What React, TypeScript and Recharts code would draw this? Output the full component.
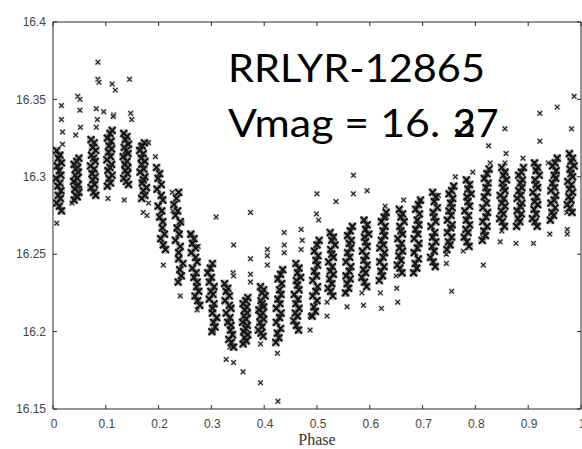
import React from 'react';
import { ScatterChart, Scatter, XAxis, YAxis } from 'recharts';

type Pt = [number, number];

// phase / V magnitude, one row per observing night (streak)
const nightsAtMax: Pt[] = [
  [0.007,16.317],[0.013,16.314],[0.010,16.312],[0.016,16.309],[0.008,16.307],[0.012,16.304],[0.015,16.301],[0.006,16.299],[0.013,16.296],[0.009,16.294],[0.015,16.291],[0.010,16.288],[0.014,16.286],[0.007,16.283],[0.012,16.281],[0.016,16.278],
  [0.049,16.312],[0.045,16.310],[0.040,16.308],[0.047,16.306],[0.043,16.305],[0.048,16.303],[0.042,16.301],[0.046,16.299],[0.039,16.297],[0.048,16.295],[0.045,16.294],[0.041,16.292],[0.049,16.290],[0.043,16.288],[0.046,16.287],[0.040,16.285],
  [0.072,16.324],[0.078,16.322],[0.075,16.319],[0.081,16.317],[0.073,16.314],[0.077,16.312],[0.080,16.310],[0.071,16.307],[0.078,16.305],[0.074,16.302],[0.080,16.300],[0.075,16.298],[0.079,16.295],[0.072,16.293],[0.077,16.290],[0.081,16.288],
  [0.112,16.330],[0.108,16.328],[0.103,16.325],[0.110,16.323],[0.106,16.320],[0.111,16.318],[0.105,16.316],[0.109,16.313],[0.102,16.311],[0.111,16.308],[0.108,16.306],[0.104,16.304],[0.112,16.301],[0.106,16.299],[0.109,16.296],[0.103,16.294],
  [0.134,16.328],[0.140,16.326],[0.137,16.324],[0.143,16.321],[0.135,16.319],[0.139,16.317],[0.142,16.315],[0.133,16.313],[0.140,16.310],[0.136,16.308],[0.142,16.306],[0.137,16.304],[0.141,16.302],[0.134,16.299],[0.139,16.297],[0.143,16.295],
  [0.173,16.322],[0.169,16.320],[0.164,16.317],[0.171,16.315],[0.167,16.312],[0.174,16.310],[0.168,16.308],[0.172,16.305],[0.165,16.303],[0.174,16.300],[0.171,16.298],[0.169,16.296],[0.177,16.293],[0.171,16.291],[0.174,16.288],[0.168,16.286],
];

const nightsFalling: Pt[] = [
  [0.196,16.306],[0.202,16.302],[0.199,16.299],[0.205,16.295],[0.197,16.292],[0.205,16.288],[0.208,16.285],[0.199,16.281],[0.206,16.278],[0.202,16.274],[0.208,16.271],[0.207,16.267],[0.211,16.263],[0.204,16.260],[0.209,16.256],[0.213,16.253],
  [0.238,16.290],[0.234,16.286],[0.229,16.282],[0.236,16.278],[0.232,16.275],[0.241,16.271],[0.235,16.267],[0.239,16.263],[0.232,16.259],[0.241,16.255],[0.238,16.251],[0.238,16.247],[0.246,16.244],[0.240,16.240],[0.243,16.236],[0.237,16.232],
  [0.261,16.263],[0.267,16.260],[0.264,16.257],[0.270,16.254],[0.262,16.251],[0.270,16.248],[0.273,16.245],[0.264,16.241],[0.271,16.238],[0.267,16.235],[0.273,16.232],[0.272,16.229],[0.276,16.226],[0.269,16.223],[0.274,16.220],[0.278,16.217],
  [0.302,16.244],[0.298,16.241],[0.293,16.238],[0.300,16.235],[0.296,16.232],[0.305,16.229],[0.299,16.226],[0.303,16.224],[0.296,16.221],[0.305,16.218],[0.302,16.215],[0.302,16.212],[0.310,16.209],[0.304,16.206],[0.307,16.203],[0.301,16.200],
  [0.325,16.231],[0.331,16.228],[0.328,16.226],[0.334,16.223],[0.326,16.220],[0.334,16.217],[0.337,16.215],[0.328,16.212],[0.335,16.209],[0.331,16.206],[0.337,16.204],[0.336,16.201],[0.340,16.198],[0.333,16.195],[0.338,16.193],[0.342,16.190],
  [0.369,16.222],[0.365,16.220],[0.360,16.218],[0.367,16.216],[0.363,16.214],[0.368,16.212],[0.362,16.210],[0.366,16.208],[0.359,16.206],[0.368,16.204],[0.365,16.202],[0.361,16.200],[0.369,16.198],[0.363,16.196],[0.366,16.194],[0.360,16.192],
  [0.393,16.229],[0.399,16.227],[0.396,16.225],[0.402,16.223],[0.394,16.220],[0.396,16.218],[0.399,16.216],[0.390,16.214],[0.397,16.212],[0.393,16.210],[0.399,16.208],[0.392,16.206],[0.396,16.203],[0.389,16.201],[0.394,16.199],[0.398,16.197],
  [0.435,16.240],[0.431,16.237],[0.426,16.234],[0.433,16.231],[0.429,16.227],[0.432,16.224],[0.426,16.221],[0.430,16.218],[0.423,16.215],[0.432,16.212],[0.429,16.209],[0.423,16.206],[0.431,16.202],[0.425,16.199],[0.428,16.196],[0.422,16.193],
];

const nightsRising: Pt[] = [
  [0.460,16.244],[0.466,16.241],[0.463,16.238],[0.469,16.235],[0.461,16.233],[0.463,16.230],[0.466,16.227],[0.457,16.224],[0.464,16.221],[0.460,16.218],[0.466,16.215],[0.459,16.212],[0.463,16.210],[0.456,16.207],[0.461,16.204],[0.465,16.201],
  [0.504,16.259],[0.500,16.256],[0.495,16.252],[0.502,16.249],[0.498,16.246],[0.501,16.243],[0.495,16.239],[0.499,16.236],[0.492,16.233],[0.501,16.229],[0.498,16.226],[0.492,16.223],[0.500,16.220],[0.494,16.216],[0.497,16.213],[0.491,16.210],
  [0.525,16.264],[0.531,16.261],[0.528,16.259],[0.534,16.256],[0.526,16.253],[0.528,16.250],[0.531,16.248],[0.522,16.245],[0.529,16.242],[0.525,16.239],[0.531,16.237],[0.524,16.234],[0.528,16.231],[0.521,16.228],[0.526,16.226],[0.530,16.223],
  [0.567,16.268],[0.563,16.265],[0.558,16.262],[0.565,16.259],[0.561,16.257],[0.564,16.254],[0.558,16.251],[0.562,16.248],[0.555,16.245],[0.564,16.242],[0.561,16.239],[0.555,16.236],[0.563,16.234],[0.557,16.231],[0.560,16.228],[0.554,16.225],
  [0.589,16.272],[0.595,16.269],[0.592,16.266],[0.598,16.263],[0.590,16.261],[0.592,16.258],[0.595,16.255],[0.586,16.252],[0.593,16.249],[0.589,16.246],[0.595,16.243],[0.588,16.240],[0.592,16.238],[0.585,16.235],[0.590,16.232],[0.594,16.229],
  [0.631,16.277],[0.627,16.274],[0.622,16.271],[0.629,16.268],[0.625,16.265],[0.628,16.262],[0.622,16.259],[0.626,16.256],[0.619,16.254],[0.628,16.251],[0.625,16.248],[0.619,16.245],[0.627,16.242],[0.621,16.239],[0.624,16.236],[0.618,16.233],
  [0.656,16.279],[0.662,16.276],[0.659,16.274],[0.665,16.271],[0.657,16.268],[0.659,16.265],[0.662,16.263],[0.653,16.260],[0.660,16.257],[0.656,16.254],[0.662,16.252],[0.655,16.249],[0.659,16.246],[0.652,16.243],[0.657,16.241],[0.661,16.238],
  [0.696,16.285],[0.692,16.282],[0.687,16.279],[0.694,16.276],[0.690,16.272],[0.693,16.269],[0.687,16.266],[0.691,16.263],[0.684,16.260],[0.693,16.257],[0.690,16.254],[0.684,16.251],[0.692,16.247],[0.686,16.244],[0.689,16.241],[0.683,16.238],
  [0.719,16.290],[0.725,16.287],[0.722,16.284],[0.728,16.280],[0.720,16.277],[0.722,16.274],[0.725,16.271],[0.716,16.268],[0.723,16.264],[0.719,16.261],[0.725,16.258],[0.718,16.255],[0.722,16.252],[0.715,16.248],[0.720,16.245],[0.724,16.242],
  [0.759,16.294],[0.755,16.291],[0.750,16.289],[0.757,16.286],[0.753,16.283],[0.756,16.280],[0.750,16.278],[0.754,16.275],[0.747,16.272],[0.756,16.269],[0.753,16.267],[0.747,16.264],[0.755,16.261],[0.749,16.258],[0.752,16.256],[0.746,16.253],
  [0.783,16.298],[0.789,16.295],[0.786,16.292],[0.792,16.289],[0.784,16.287],[0.786,16.284],[0.789,16.281],[0.780,16.278],[0.787,16.275],[0.783,16.272],[0.789,16.269],[0.782,16.266],[0.786,16.264],[0.779,16.261],[0.784,16.258],[0.788,16.255],
  [0.826,16.305],[0.822,16.302],[0.817,16.299],[0.824,16.296],[0.820,16.293],[0.823,16.290],[0.817,16.287],[0.821,16.283],[0.814,16.280],[0.823,16.277],[0.820,16.274],[0.814,16.271],[0.822,16.268],[0.816,16.265],[0.819,16.262],[0.813,16.259],
  [0.850,16.306],[0.856,16.303],[0.853,16.301],[0.859,16.298],[0.851,16.296],[0.853,16.293],[0.856,16.291],[0.847,16.288],[0.854,16.286],[0.850,16.283],[0.856,16.281],[0.849,16.278],[0.853,16.276],[0.846,16.273],[0.851,16.271],[0.855,16.268],
  [0.891,16.306],[0.887,16.303],[0.882,16.301],[0.889,16.298],[0.885,16.296],[0.888,16.293],[0.882,16.291],[0.886,16.288],[0.879,16.286],[0.888,16.283],[0.885,16.281],[0.879,16.278],[0.887,16.276],[0.881,16.273],[0.884,16.271],[0.878,16.268],
  [0.912,16.309],[0.918,16.306],[0.915,16.304],[0.921,16.301],[0.913,16.298],[0.915,16.295],[0.918,16.293],[0.909,16.290],[0.916,16.287],[0.912,16.284],[0.918,16.282],[0.911,16.279],[0.915,16.276],[0.908,16.273],[0.913,16.271],[0.917,16.268],
  [0.955,16.312],[0.951,16.309],[0.946,16.307],[0.953,16.304],[0.949,16.301],[0.952,16.299],[0.946,16.296],[0.950,16.293],[0.943,16.291],[0.952,16.288],[0.949,16.285],[0.943,16.283],[0.951,16.280],[0.945,16.277],[0.948,16.275],[0.942,16.272],
  [0.978,16.315],[0.984,16.312],[0.981,16.310],[0.987,16.307],[0.979,16.305],[0.981,16.302],[0.984,16.300],[0.975,16.297],[0.982,16.295],[0.978,16.292],[0.984,16.290],[0.977,16.287],[0.981,16.285],[0.974,16.282],[0.979,16.280],[0.983,16.277],
];

// isolated points away from the streaks
const strays: Pt[] = [
  [0.016,16.346],[0.016,16.337],[0.018,16.329],[0.018,16.321],[0.007,16.270],
  [0.047,16.352],[0.051,16.350],[0.051,16.343],[0.052,16.332],[0.043,16.327],[0.036,16.283],
  [0.085,16.374],[0.085,16.363],[0.087,16.361],[0.082,16.344],[0.084,16.337],[0.082,16.332],
  [0.104,16.286],[0.112,16.360],[0.118,16.356],[0.115,16.340],[0.096,16.342],[0.114,16.339],
  [0.145,16.363],[0.147,16.341],[0.149,16.337],[0.135,16.285],[0.165,16.320],[0.178,16.322],
  [0.181,16.322],[0.171,16.277],[0.178,16.275],[0.181,16.283],[0.194,16.313],[0.209,16.243],
  [0.226,16.290],[0.227,16.278],[0.244,16.270],[0.241,16.223],[0.261,16.262],[0.275,16.255],
  [0.273,16.214],[0.309,16.274],[0.304,16.201],[0.342,16.256],[0.341,16.238],[0.342,16.236],
  [0.328,16.182],[0.342,16.180],[0.335,16.190],[0.374,16.277],[0.374,16.247],[0.374,16.237],
  [0.374,16.232],[0.360,16.174],[0.361,16.193],[0.406,16.253],[0.406,16.249],[0.406,16.243],
  [0.393,16.192],[0.393,16.167],[0.438,16.264],[0.438,16.256],[0.438,16.251],[0.425,16.186],
  [0.426,16.155],[0.470,16.266],[0.472,16.259],[0.470,16.253],[0.500,16.289],[0.499,16.276],
  [0.503,16.272],[0.487,16.201],[0.487,16.210],[0.519,16.210],[0.519,16.219],[0.557,16.216],
  [0.588,16.217],[0.622,16.215],[0.653,16.219],[0.569,16.301],[0.569,16.289],[0.595,16.291],
  [0.536,16.284],[0.585,16.225],[0.620,16.225],[0.629,16.281],[0.632,16.274],[0.651,16.228],
  [0.650,16.236],[0.664,16.285],[0.695,16.284],[0.730,16.288],[0.745,16.250],[0.745,16.244],
  [0.755,16.226],[0.762,16.300],[0.777,16.252],[0.795,16.303],[0.815,16.243],[0.825,16.320],
  [0.828,16.309],[0.814,16.261],[0.856,16.331],[0.858,16.315],[0.856,16.309],[0.850,16.265],
  [0.847,16.258],[0.890,16.312],[0.877,16.257],[0.922,16.341],[0.922,16.323],[0.910,16.257],
  [0.955,16.345],[0.941,16.263],[0.938,16.309],[0.982,16.331],[0.973,16.277],[0.974,16.266],
  [0.974,16.263],[0.987,16.352],
];

const phaseTicks = [0, 0.1, 0.2, 0.3, 0.4, 0.5, 0.6, 0.7, 0.8, 0.9, 1];
const magTicks = [16.15, 16.2, 16.25, 16.3, 16.35, 16.4];
const starName = 'RRLYR-12865';
const vmagText = 'Vmag = 16.';

const ink = '#2a2a2a';
const labelFont = '"Liberation Sans", Arial, sans-serif';

const toRows = (pts: Pt[]) => pts.map(([phase, mag]) => ({ phase, mag }));

// dense nightly streaks: heavier crosses so they merge into dark bands
const HeavyCross = (props: any) => {
  const { cx, cy } = props;
  if (cx == null || cy == null) return <g />;
  const s = 3.4;
  return (
    <g>
      <rect x={cx - 4} y={cy - 4} width={8} height={8} fill="#5a5a5a" fillOpacity={0.4} />
      <path
        d={`M${cx - s},${cy - s}L${cx + s},${cy + s}M${cx - s},${cy + s}L${cx + s},${cy - s}`}
        stroke="#111"
        strokeWidth={2}
        fill="none"
      />
    </g>
  );
};

// single points: small cross with a faint grey box round it
const Cross = (props: any) => {
  const { cx, cy } = props;
  if (cx == null || cy == null) return <g />;
  const s = 2.3;
  return (
    <g>
      <rect x={cx - 3} y={cy - 3} width={6} height={6} fill="#cfcfcf" fillOpacity={0.6} />
      <path
        d={`M${cx - s},${cy - s}L${cx + s},${cy + s}M${cx - s},${cy + s}L${cx + s},${cy - s}`}
        stroke="#222"
        strokeWidth={1.2}
        fill="none"
      />
    </g>
  );
};

const BottomTick = (props: any) => {
  const { x, y, payload } = props;
  const base = y - 10;
  return (
    <g>
      <line x1={x} x2={x} y1={base} y2={base - 4} stroke={ink} />
      <text x={x + 1} y={y} dy="0.71em" textAnchor="middle" fontSize={12} fill="#444" fontFamily={labelFont}>
        {payload.value}
      </text>
    </g>
  );
};

const LeftTick = (props: any) => {
  const { x, y, payload } = props;
  const base = x + 7;
  return (
    <g>
      <line x1={base} x2={base + 4} y1={y} y2={y} stroke={ink} />
      <text x={x} y={y} dy="0.355em" textAnchor="end" fontSize={12} fill="#444" fontFamily={labelFont}>
        {payload.value}
      </text>
    </g>
  );
};

const TopTick = (props: any) => {
  const { x, y } = props;
  return <line x1={x} x2={x} y1={y} y2={y + 4} stroke={ink} />;
};

const RightTick = (props: any) => {
  const { x, y } = props;
  return <line x1={x} x2={x - 4} y1={y} y2={y} stroke={ink} />;
};

export default function App() {
  const streaks = [...toRows(nightsAtMax), ...toRows(nightsFalling), ...toRows(nightsRising)];
  const loose = toRows(strays);

  return (
    <div style={{ position: 'absolute', left: 0, top: 0, width: 582, height: 449, background: '#fff' }}>
      <ScatterChart width={582} height={449} margin={{ top: 21, right: 0, bottom: 0, left: 0 }}>
        <XAxis
          xAxisId="b"
          dataKey="phase"
          type="number"
          domain={[0, 1]}
          allowDataOverflow
          ticks={phaseTicks}
          interval={0}
          height={40}
          tickSize={0}
          tickMargin={10}
          tickLine={false}
          axisLine={{ stroke: ink }}
          tick={<BottomTick />}
          label={{ value: 'Phase', position: 'insideBottom', offset: 4, fill: '#333', fontSize: 16, fontFamily: '"Liberation Serif", "Times New Roman", serif' }}
        />
        <XAxis
          xAxisId="t"
          orientation="top"
          dataKey="phase"
          type="number"
          domain={[0, 1]}
          allowDataOverflow
          ticks={phaseTicks}
          interval={0}
          height={1}
          tickSize={0}
          tickMargin={0}
          tickLine={false}
          axisLine={{ stroke: ink }}
          tick={<TopTick />}
        />
        <YAxis
          yAxisId="l"
          dataKey="mag"
          type="number"
          domain={[16.15, 16.4]}
          allowDataOverflow
          ticks={magTicks}
          interval={0}
          width={53}
          tickSize={0}
          tickMargin={7}
          tickLine={false}
          axisLine={{ stroke: ink }}
          tick={<LeftTick />}
        />
        <YAxis
          yAxisId="r"
          orientation="right"
          dataKey="mag"
          type="number"
          domain={[16.15, 16.4]}
          allowDataOverflow
          ticks={magTicks}
          interval={0}
          width={1}
          tickSize={0}
          tickMargin={0}
          tickLine={false}
          axisLine={{ stroke: ink }}
          tick={<RightTick />}
        />
        <Scatter data={loose} xAxisId="t" yAxisId="r" shape={Cross} isAnimationActive={false} />
        <Scatter data={streaks} xAxisId="b" yAxisId="l" shape={HeavyCross} isAnimationActive={false} />
      </ScatterChart>
      <svg width={582} height={449} style={{ position: 'absolute', left: 0, top: 0, pointerEvents: 'none' }}>
        <g fontFamily="Lato, 'Noto Sans', sans-serif" fontSize={39} fill="#000">
          <text x={228} y={82} textLength={257} lengthAdjust="spacingAndGlyphs">{starName}</text>
          <text x={228} y={137} textLength={212} lengthAdjust="spacingAndGlyphs">{vmagText}</text>
          <text x={453} y={137}>3</text>
          <text x={453} y={137}>2</text>
          <text x={476} y={137}>7</text>
        </g>
      </svg>
    </div>
  );
}
